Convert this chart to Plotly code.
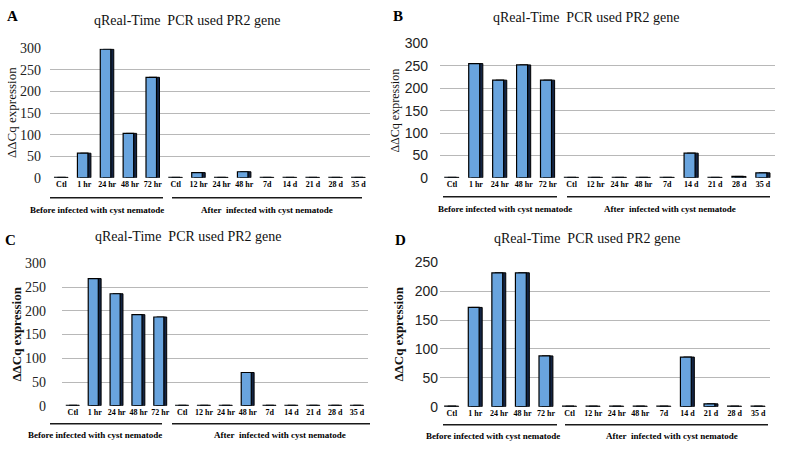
import plotly.graph_objects as go

W, H = 787, 450

times = ['Ctl', '1 hr', '24 hr', '48 hr', '72 hr',
         'Ctl', '12 hr', '24 hr', '48 hr', '7d', '14 d', '21 d', '28 d', '35 d']

vals_A = [1, 57, 298, 103, 233, 1, 12, 1, 14, 1, 1, 1, 1, 1]
vals_B = [1, 255, 218, 252, 218, 1, 1, 1, 1, 1, 55, 1, 3, 11]
vals_C = [1, 268, 236, 192, 187, 1, 1, 1, 70, 1, 1, 1, 1, 1]
vals_D = [1, 172, 232, 232, 88, 1, 1, 1, 1, 1, 86, 5, 1, 1]

TITLE = 'qReal-Time\u00a0 PCR used PR2 gene'
BEFORE = 'Before infected with cyst nematode'
AFTER = 'After\u00a0 infected with cyst nematode'

FACE = '#69A4DE'
SIDE = '#132443'
SERIF = 'Liberation Serif'
SANS = 'Liberation Sans'


def px_x(x):
    return x / W


def px_y(y):
    # screenshot came out squeezed vertically (~0.969, +7px), compensate
    y = max((y - 7.4) / 0.969, 0)
    return 1 - y / H


# box: left, right, y of zero line, y of top line (reference pixels)
panels = [
    dict(L='A', v=vals_A, ymax=300, box=(50, 370, 178, 48), let=(12, 15), tit=(187, 20), gl=198, lab=210,
         lines=[(50, 163), (172, 362)], labx=(97, 267), ytx=11, yts=13, tickfam=SERIF, so=8, ybold='normal'),
    dict(L='B', v=vals_B, ymax=300, box=(440, 775, 178, 43), let=(398, 15), tit=(586, 17), gl=197, lab=209,
         lines=[(443, 557), (567, 770)], labx=(505, 670), ytx=395, yts=12, tickfam=SANS, so=11, ybold='normal'),
    dict(L='C', v=vals_C, ymax=300, box=(62, 368, 407, 264), let=(10, 240), tit=(188, 237), gl=425, lab=436,
         lines=[(50, 162), (172, 370)], labx=(95, 280), ytx=17, yts=13, tickfam=SERIF, so=15, ybold='bold'),
    dict(L='D', v=vals_D, ymax=250, box=(440, 770, 408, 263), let=(400, 240), tit=(587, 239), gl=426, lab=437,
         lines=[(443, 557), (565, 768)], labx=(493, 672), ytx=399, yts=13, tickfam=SANS, so=1, ybold='bold'),
]

fig = go.Figure()
annos, shapes = [], []
xs = list(range(len(times)))

for i, p in enumerate(panels):
    n = '' if i == 0 else str(i + 1)
    xa, ya = 'x' + n, 'y' + n
    l, r, y0, y1 = p['box']
    # dark side face behind, then the front face
    fig.add_trace(go.Bar(x=xs, y=p['v'], xaxis=xa, yaxis=ya, width=0.46, offset=-0.17,
                         marker=dict(color=SIDE, line=dict(color='black', width=1)),
                         showlegend=False, hoverinfo='skip'))
    fig.add_trace(go.Bar(x=xs, y=p['v'], xaxis=xa, yaxis=ya, width=0.46, offset=-0.3,
                         marker=dict(color=FACE, line=dict(color='black', width=1.2)),
                         showlegend=False))
    fig.layout['xaxis' + n] = dict(
        domain=[px_x(l), px_x(r)], anchor=ya, range=[-0.5, 13.5],
        tickmode='array', tickvals=xs, ticktext=times, ticks='', showline=False,
        showgrid=False, zeroline=False,
        tickfont=dict(family=SERIF, size=8, color='black', weight='bold'))
    fig.layout['yaxis' + n] = dict(
        domain=[px_y(y0), px_y(y1)], anchor=xa, range=[0, p['ymax']],
        dtick=50, showgrid=True, gridcolor='#b8b8b8', gridwidth=1, zeroline=False,
        showline=False, ticks='', ticklen=0, ticklabelstandoff=p['so'],
        tickfont=dict(family=p['tickfam'], size=14, color='#222'))
    annos.append(dict(text=p['L'], x=px_x(p['let'][0]), y=px_y(p['let'][1]), xref='paper', yref='paper',
                      xanchor='center', yanchor='middle', showarrow=False,
                      font=dict(family=SERIF, size=15, color='black', weight='bold')))
    annos.append(dict(text=TITLE, x=px_x(p['tit'][0]), y=px_y(p['tit'][1]), xref='paper', yref='paper',
                      xanchor='center', yanchor='middle', showarrow=False,
                      font=dict(family=SERIF, size=14, color='#111')))
    annos.append(dict(text='\u0394\u0394Cq expression', x=px_x(p['ytx']), y=px_y((y0 + y1) / 2),
                      xref='paper', yref='paper', textangle=-90, xanchor='center', yanchor='middle',
                      showarrow=False, font=dict(family=SERIF, size=p['yts'], color='#111', weight=p['ybold'])))
    for txt, cx in zip([BEFORE, AFTER], p['labx']):
        annos.append(dict(text=txt, x=px_x(cx), y=px_y(p['lab']), xref='paper', yref='paper',
                          xanchor='center', yanchor='middle', showarrow=False,
                          font=dict(family=SERIF, size=9, color='black', weight='bold')))
    for a, b in p['lines']:
        shapes.append(dict(type='line', xref='paper', yref='paper', x0=px_x(a), x1=px_x(b),
                           y0=px_y(p['gl']), y1=px_y(p['gl']),
                           line=dict(color='#1a1a1a', width=1.5)))

fig.update_layout(width=W, height=H, margin=dict(l=0, r=0, t=0, b=0),
                  paper_bgcolor='white', plot_bgcolor='white', barmode='overlay',
                  annotations=annos, shapes=shapes, showlegend=False)

# drop the default 8px body margin so the figure fills the window
fig.write_html('out.html', config={'displayModeBar': False},
               post_script="document.body.style.margin='0';")
